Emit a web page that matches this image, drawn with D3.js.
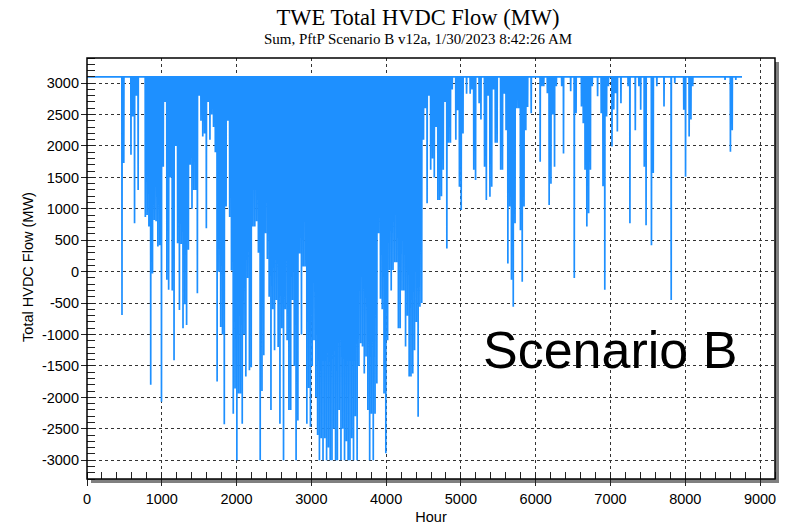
<!DOCTYPE html>
<html>
<head>
<meta charset="utf-8">
<script src="https://cdn.jsdelivr.net/npm/d3@7"></script>
<style>
body { margin: 0; background: #fff; }
svg text { font-family: "Liberation Sans", Arial, sans-serif; fill: #000; }
</style>
</head>
<body>
<div id="chart"></div>
<script>
// hourly flow sits at the cap except for one dip per day (daily minimum, MW)
const capMW = 3100;
const dailyMinMW = [
	3100, 3100, 3100, 3100, 3100, 3100, 3100, 3100, 3100, 3100,
	3100, 3100, 3100, 3100, 3100, 3100, 3100, 3100, 3100, -690,
	1730, 3100, 3100, 3100, 1860, 2470, 770, 2800, 1300, 3100,
	3100, 3100, 870, 900, 720, -1800, -30, 820, 800, 400,
	420, -2070, 1670, 2700, -130, -290, 1500, -300, -1410, 2000,
	450, -610, 440, -900, -520, -850, 350, 1700, 1000, 1300,
	1300, -345, 2800, 2400, 2150, 2200, 690, 2700, 2100, 2500,
	2300, 1900, -1750, 0, -880, -1000, -2430, 1035, 2400, 870,
	20, -2260, -1860, -3000, -1940, -1940, -2420, -1000, -1670, -100,
	-1570, -1520, 720, 720, 800, 300, -3000, -1900, -1330, 610,
	200, -400, -2200, -600, -1250, -450, -1200, -2420, -900, -3000,
	-600, -1090, -2200, -2200, -450, -1500, -3000, -2370, 290, -1000,
	80, 80, -2420, -1850, -2470, -1500, -1090, -2000, -2600, -3000,
	-2650, -3000, -2650, -3000, -2800, -3000, -3000, -2500, -3000, -3000,
	-2200, -3000, -2500, -3000, -2700, -3000, -3000, -2650, -3000, -2300,
	-3000, -1500, -1140, -1190, -1620, -1350, -2200, -3000, -2260, -3000,
	-2260, -1780, 610, -430, -600, -1940, -2890, -1090, 25, -300,
	25, 150, 150, -900, -900, -300, -300, -1190, -700, -1670,
	-1670, -1620, -1250, -800, -2310, -560, -500, 2100, 2600, 1090,
	2800, 1620, 1800, 1500, 2300, 1140, 1140, 1200, 1620, 2700,
	370, 2050, 2050, 2900, 3100, 2100, 2570, 1350, 980, 2200,
	3100, 2830, 3100, 2830, 2900, 1620, 1460, 3100, 2680, 2420,
	3100, 1670, 1140, 2800, 1190, 1350, 2900, 2050, 2050, 3100,
	1620, 1620, 2830, 2250, 130, 1035, -130, -560, 770, 2600,
	2600, 660, -160, 1035, 2250, 2620, 3100, 2520, 3100, 3100,
	3100, 3100, 1750, 2950, 2950, 3100, 2840, 1060, 1400, 2500,
	1670, 2950, 3100, 3100, 2950, 1880, 3100, 3100, 3100, 2870,
	3100, -100, 2520, 3100, 3100, 2630, 2360, 1620, 720, 930,
	1620, 2950, 3100, 3100, 2790, 3100, 2520, 1360, -290, 2470,
	2950, 3100, 1990, 2580, 2840, 2230, 3100, 2680, 3100, 3100,
	3100, 2950, 770, 3100, 3100, 2250, 3100, 2950, 2575, 3100,
	1670, 740, 3100, 3100, 420, 1570, 3100, 2950, 3100, 3100,
	3100, 2630, 3100, 3100, 3100, -450, 3100, 3000, 3100, 3100,
	3100, 3100, 2575, 1510, 3100, 2150, 2420, 2950, 3100, 3100,
	3100, 3100, 3100, 3100, 3100, 3100, 3100, 3100, 3100, 3100,
	3100, 3100, 3100, 3100, 3100, 3050, 3100, 3100, 1910, 2250,
	3100, 3050, 3100, 3100, 3100
];
const xTicks = [0, 1000, 2000, 3000, 4000, 5000, 6000, 7000, 8000, 9000];
const yTicks = [-3000, -2500, -2000, -1500, -1000, -500, 0, 500, 1000, 1500, 2000, 2500, 3000];

const width = 795, height = 526;
const pLeft = 87, pRight = 775, pTop = 58, pBottom = 479;

const x = d3.scaleLinear().domain([0, 9200]).range([pLeft, pRight]);
const y = d3.scaleLinear().domain([-3300, 3400]).range([pBottom, pTop]);

// build hourly points: cap, dip at midday, back to cap
var pts = [[0, capMW]];
dailyMinMW.forEach(function(v, d) {
	if (v < capMW) {
		pts.push([d * 24 + 10, capMW], [d * 24 + 12, v], [d * 24 + 14, capMW]);
	}
});
pts.push([dailyMinMW.length * 24 - 1, capMW]);

var svg = d3.select('#chart').append('svg')
	.attr('width', width)
	.attr('height', height);

svg.append('rect').attr('width', width).attr('height', height).attr('fill', '#fff');

// titles
svg.append('text')
	.attr('x', 418).attr('y', 25)
	.attr('text-anchor', 'middle')
	.style('font-family', '"Liberation Serif", "Times New Roman", serif')
	.style('font-size', '22.5px')
	.text('TWE Total HVDC Flow (MW)');
svg.append('text')
	.attr('x', 418).attr('y', 43.5)
	.attr('text-anchor', 'middle')
	.style('font-family', '"Liberation Serif", "Times New Roman", serif')
	.style('font-size', '15px')
	.text('Sum, PftP Scenario B v12a, 1/30/2023 8:42:26 AM');

// drop shadow + plot background
svg.append('rect')
	.attr('x', pLeft + 4).attr('y', pTop + 4)
	.attr('width', pRight - pLeft).attr('height', pBottom - pTop)
	.attr('fill', '#808080');
svg.append('rect')
	.attr('x', pLeft).attr('y', pTop)
	.attr('width', pRight - pLeft).attr('height', pBottom - pTop)
	.attr('fill', '#fff');

svg.append('clipPath').attr('id', 'clip')
	.append('rect')
	.attr('x', pLeft).attr('y', pTop)
	.attr('width', pRight - pLeft).attr('height', pBottom - pTop);

// grid
var grid = svg.append('g')
	.attr('stroke', '#333')
	.attr('stroke-width', 1)
	.attr('stroke-dasharray', '3,3')
	.attr('shape-rendering', 'crispEdges');
grid.selectAll('.gx').data(xTicks.slice(1)).enter().append('line')
	.attr('x1', d => x(d)).attr('x2', d => x(d))
	.attr('y1', pTop).attr('y2', pBottom);
grid.selectAll('.gy').data(yTicks).enter().append('line')
	.attr('x1', pLeft).attr('x2', pRight)
	.attr('y1', d => y(d)).attr('y2', d => y(d));

// flow line
var line = d3.line()
	.x(d => x(d[0]))
	.y(d => y(d[1]));
svg.append('path')
	.attr('clip-path', 'url(#clip)')
	.attr('d', line(pts))
	.attr('fill', 'none')
	.attr('stroke', '#1E90FF')
	.attr('stroke-width', 1.7);

// ticks
var ticks = svg.append('g').attr('stroke', '#222').attr('stroke-width', 1).attr('shape-rendering', 'crispEdges');
ticks.selectAll('.my').data(d3.range(-3300, 3401, 100)).enter().append('line')
	.attr('x1', pLeft).attr('x2', pLeft + 8)
	.attr('y1', d => y(d)).attr('y2', d => y(d));
ticks.selectAll('.My').data(yTicks).enter().append('line')
	.attr('x1', pLeft - 6).attr('x2', pLeft)
	.attr('y1', d => y(d)).attr('y2', d => y(d));
ticks.selectAll('.mx').data(d3.range(0, 9201, 200)).enter().append('line')
	.attr('x1', d => x(d)).attr('x2', d => x(d))
	.attr('y1', pBottom - 7).attr('y2', pBottom);
ticks.selectAll('.Mx').data(xTicks).enter().append('line')
	.attr('x1', d => x(d)).attr('x2', d => x(d))
	.attr('y1', pBottom).attr('y2', pBottom + 7);

// frame
svg.append('rect')
	.attr('x', pLeft).attr('y', pTop)
	.attr('width', pRight - pLeft).attr('height', pBottom - pTop)
	.attr('fill', 'none')
	.attr('stroke', '#000')
	.attr('stroke-width', 1.5);

// tick labels
svg.selectAll('.yl').data(yTicks).enter().append('text')
	.attr('x', pLeft - 8).attr('y', d => y(d))
	.attr('dy', '0.36em')
	.attr('text-anchor', 'end')
	.style('font-size', '14.5px')
	.text(d => d);
svg.selectAll('.xl').data(xTicks).enter().append('text')
	.attr('x', d => x(d)).attr('y', 504)
	.attr('text-anchor', 'middle')
	.style('font-size', '14.5px')
	.text(d => d);

// axis titles
svg.append('text')
	.attr('x', 431).attr('y', 522)
	.attr('text-anchor', 'middle')
	.style('font-size', '14.5px')
	.text('Hour');
svg.append('text')
	.attr('transform', 'translate(33,267) rotate(-90)')
	.attr('text-anchor', 'middle')
	.style('font-size', '14.5px')
	.text('Total HVDC Flow (MW)');

svg.append('text')
	.attr('x', 483).attr('y', 368)
	.style('font-size', '52px')
	.text('Scenario B');
</script>
</body>
</html>
